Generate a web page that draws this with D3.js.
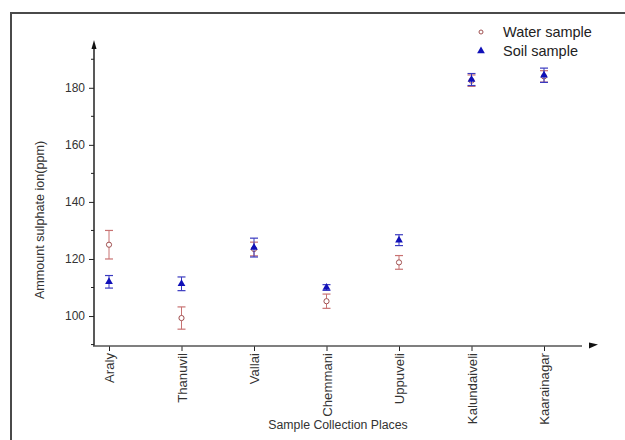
<!DOCTYPE html>
<html>
<head>
<meta charset="utf-8">
<script src="https://cdn.jsdelivr.net/npm/d3@7"></script>
<style>
  body { margin: 0; background: #fff; }
  svg { display: block; font-family: "Liberation Sans", Arial, sans-serif; }
</style>
</head>
<body>
<div id="chart"></div>
<script>
const places = ["Araly", "Thanuvil", "Vallai", "Chemmani", "Uppuveli", "Kalundaiveli", "Kaarainagar"]
const water = [125, 99.3, 123.5, 105.2, 118.8, 182.5, 184]
const waterErr = [5, 3.9, 2.4, 2.5, 2.4, 2, 2]
const soil = [112, 111.3, 124, 110, 126.6, 182.9, 184.4]
const soilErr = [2.2, 2.4, 3.3, 1, 1.9, 2.1, 2.5]
const majorTicks = [100, 120, 140, 160, 180]
const minorTicks = [90, 110, 130, 150, 170, 190]

const width = 625, height = 440

const svg = d3.select('#chart').append('svg')
    .attr('width', width)
    .attr('height', height)

// frame round the figure
svg.append('path')
    .attr('d', `M11,${height} V13 H${width}`)
    .attr('fill', 'none')
    .attr('stroke', '#4a4a4a')
    .attr('stroke-width', 2)

const x = d3.scalePoint().domain(places).range([109, 544])
const y = d3.scaleLinear().domain([89.5, 195]).range([346, 45])

const axisColor = '#222'
const font = '"Liberation Sans", Arial, sans-serif'

// y axis
const yAxis = svg.append('g').attr('transform', 'translate(94,0)')
yAxis.call(d3.axisLeft(y).tickValues(majorTicks).tickSize(5).tickPadding(4))
yAxis.select('.domain').remove()
yAxis.selectAll('text').attr('font-size', 12).attr('fill', '#333').attr('font-family', font)
yAxis.selectAll('line').attr('stroke', axisColor)
yAxis.selectAll('.minor').data(minorTicks).enter().append('line')
    .attr('x1', -3).attr('x2', 0)
    .attr('y1', d => y(d)).attr('y2', d => y(d))
    .attr('stroke', axisColor)
yAxis.append('line')
    .attr('x1', 0).attr('x2', 0)
    .attr('y1', 346).attr('y2', 48)
    .attr('stroke', axisColor).attr('stroke-width', 1.5)
yAxis.append('path')
    .attr('d', 'M0,40 L-2.5,49 L2.5,49 Z')
    .attr('fill', '#111')

// x axis
const xAxis = svg.append('g').attr('transform', 'translate(0,346)')
xAxis.call(d3.axisBottom(x).tickSize(5).tickPadding(4))
xAxis.select('.domain').remove()
xAxis.selectAll('line').attr('stroke', axisColor)
xAxis.selectAll('text')
    .attr('font-size', 13.2)
    .attr('fill', '#333')
    .attr('font-family', font)
    .attr('transform', 'rotate(-90)')
    .attr('text-anchor', 'end')
    .attr('x', -7)
    .attr('y', 0)
    .attr('dy', '0.35em')
xAxis.append('line')
    .attr('x1', 93).attr('x2', 582)
    .attr('y1', 0).attr('y2', 0)
    .attr('stroke', '#555').attr('stroke-width', 1.5)
xAxis.append('path')
    .attr('d', 'M598,-1.5 L589,-3.5 L589,2.5 Z')
    .attr('fill', '#111')

// axis titles
svg.append('text')
    .attr('x', 338).attr('y', 429)
    .attr('text-anchor', 'middle')
    .attr('font-size', 12.3)
    .attr('fill', '#333')
    .text('Sample Collection Places')

svg.append('text')
    .attr('transform', 'translate(44,220) rotate(-90)')
    .attr('text-anchor', 'middle')
    .attr('font-size', 12.6)
    .attr('fill', '#333')
    .text('Ammount sulphate ion(ppm)')

const waterColor = '#c87272'
const soilColor = '#1010b8'

function errorBars(vals, errs, color, cls) {
    const g = svg.append('g').attr('class', cls)
    vals.forEach((v, i) => {
        const cx = x(places[i])
        const top = y(v + errs[i]), bot = y(v - errs[i])
        g.append('line').attr('x1', cx).attr('x2', cx).attr('y1', top).attr('y2', bot)
            .attr('stroke', color).attr('stroke-width', 1)
        g.append('line').attr('x1', cx - 4).attr('x2', cx + 4).attr('y1', top).attr('y2', top)
            .attr('stroke', color).attr('stroke-width', 1.2)
        g.append('line').attr('x1', cx - 4).attr('x2', cx + 4).attr('y1', bot).attr('y2', bot)
            .attr('stroke', color).attr('stroke-width', 1.2)
    })
    return g
}

errorBars(water, waterErr, waterColor, 'water-err')
svg.append('g').selectAll('circle')
    .data(water)
    .enter().append('circle')
    .attr('cx', (d, i) => x(places[i]))
    .attr('cy', d => y(d))
    .attr('r', 2.6)
    .attr('fill', '#fff')
    .attr('stroke', '#a05050')
    .attr('stroke-width', 1)

errorBars(soil, soilErr, '#3a3ac0', 'soil-err')
const tri = d3.symbol().type(d3.symbolTriangle).size(26)
svg.append('g').selectAll('path')
    .data(soil)
    .enter().append('path')
    .attr('d', tri)
    .attr('transform', (d, i) => `translate(${x(places[i])},${y(d)})`)
    .attr('fill', soilColor)

// legend
const legend = svg.append('g')
legend.append('circle')
    .attr('cx', 481).attr('cy', 32).attr('r', 2)
    .attr('fill', '#fff').attr('stroke', '#a05050')
legend.append('path')
    .attr('d', tri)
    .attr('transform', 'translate(481,51)')
    .attr('fill', soilColor)
legend.append('text')
    .attr('x', 503).attr('y', 37)
    .attr('font-size', 14.5).attr('fill', '#222')
    .text('Water sample')
legend.append('text')
    .attr('x', 503).attr('y', 56)
    .attr('font-size', 14.5).attr('fill', '#222')
    .text('Soil sample')
</script>
</body>
</html>
